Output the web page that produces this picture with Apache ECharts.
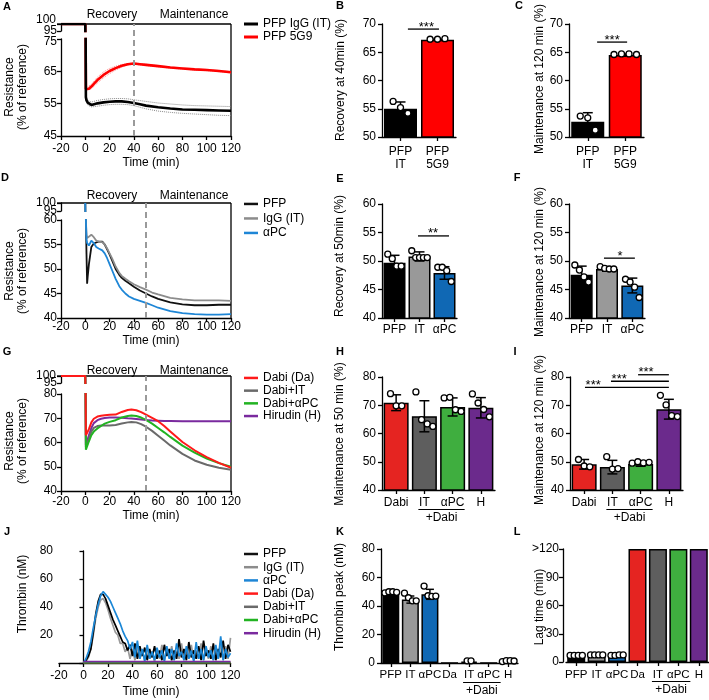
<!DOCTYPE html>
<html>
<head>
<meta charset="utf-8">
<script src="https://cdn.jsdelivr.net/npm/echarts@6/dist/echarts.min.js"></script>
<style>
html,body{margin:0;padding:0;background:#fff;}
#chart{width:709px;height:700px;}
</style>
</head>
<body>
<div id="chart"></div>
<script>
// ================= DATA =================
// Panel A – resistance curves (time in min, % of reference)
const aTime = [-20, 0, 0.5, 1, 2, 3, 5, 8, 10, 15, 20, 25, 30, 35, 40, 45, 50, 60, 70, 80, 90, 100, 110, 120];
const aIgG  = [100, 100, 57, 56, 55.3, 54.9, 54.6, 54.9, 55.1, 55.4, 55.6, 55.7, 55.7, 55.5, 55.2, 54.8, 54.4, 53.9, 53.5, 53.2, 53.1, 53.0, 52.9, 52.8];
const a5G9  = [100, 100, 59.5, 59.4, 59.4, 59.6, 60.3, 61.5, 62.3, 63.9, 65.1, 66.0, 66.7, 67.2, 67.4, 67.2, 67.0, 66.6, 66.2, 65.9, 65.6, 65.4, 65.1, 64.7];
const aSemTime = [0.5, 2, 5, 10, 15, 20, 25, 30, 35, 40, 50, 60, 70, 80, 90, 100, 110, 120];
const aIgGHi = [57.5, 56.0, 55.5, 56.0, 56.3, 56.5, 56.6, 56.6, 56.5, 56.2, 55.7, 55.2, 54.9, 54.6, 54.4, 54.3, 54.2, 54.1];
const aIgGLo = [56.5, 54.6, 54.0, 54.2, 54.5, 54.7, 54.8, 54.8, 54.7, 54.4, 53.4, 52.7, 52.3, 52.0, 51.8, 51.6, 51.4, 51.3];
const a5G9Hi = [59.8, 59.9, 61.0, 63.2, 64.8, 65.9, 66.6, 67.1, 67.4, 67.6, 67.2, 66.8, 66.4, 66.1, 65.8, 65.6, 65.3, 64.9];
const a5G9Lo = [59.2, 59.0, 59.6, 61.4, 63.0, 64.3, 65.4, 66.3, 67.0, 67.2, 66.8, 66.4, 66.0, 65.7, 65.4, 65.2, 64.9, 64.5];

// Panel B
const bCats = ['PFP\nIT', 'PFP\n5G9'];
const bMean = [55.0, 67.2];
const bSD   = [1.2, 0.1];
const bPts  = [[56.3, 55.2, 54.2], [67.3, 67.3, 67.4]];
const bSig  = [[0.2, 1.04, 69.1, '***', 0.7]];

// Panel C
const cCats = ['PFP\nIT', 'PFP\n5G9'];
const cMean = [52.7, 64.5];
const cSD   = [1.6, 0.2];
const cPts  = [[53.7, 53.4, 51.2], [64.6, 64.7, 64.7, 64.6]];
const cSig  = [[0.25, 1.05, 66.8, '***', 0.65]];

// Panel D
const dTime = [0, 0.5, 1, 1.5, 2, 3, 5, 7, 9, 11, 12, 14, 16, 18, 20, 22, 25, 28, 30, 33, 36, 40, 45, 50, 55, 60, 70, 80, 90, 100, 110, 120];
const dPFP  = [100, 60, 53, 47, 48.5, 51, 54.5, 55.2, 55.4, 55.6, 55.7, 55.6, 55, 54, 53, 51.8, 50, 48.8, 48.2, 47.6, 47.1, 46.4, 45.6, 45, 44.4, 43.9, 43.2, 42.8, 42.6, 42.6, 42.7, 42.7];
const dIgG  = [100, 60, 57, 56.3, 56, 56.3, 57, 56.5, 55.8, 55.6, 55.6, 55.5, 55, 54.2, 53.2, 52.2, 50.5, 49.2, 48.6, 48, 47.5, 46.9, 46.3, 45.8, 45.2, 44.8, 44.1, 43.8, 43.6, 43.6, 43.6, 43.5];
const dAPC  = [100, 60, 56, 55.3, 55, 54.8, 55.8, 55.3, 54.5, 54.2, 54.1, 53.8, 53.2, 52.2, 51, 49.8, 48, 46.5, 45.8, 45, 44.4, 43.9, 43.5, 43.1, 42.6, 42.1, 41.4, 41, 40.8, 40.7, 40.7, 40.8];

// Panel E
const eCats = ['PFP', 'IT', 'αPC'];
const eMean = [49.7, 50.8, 47.9];
const eSD   = [1.3, 0.8, 1.1];
const ePts  = [[51.2, 50.4, 49.1, 49.1], [51.8, 50.6, 50.6, 50.6, 50.6], [48.9, 48.9, 48.3, 46.4]];
const eSig  = [[0.94, 2.18, 54.4, '**', 1.54]];

// Panel F
const fCats = ['PFP', 'IT', 'αPC'];
const fMean = [47.6, 48.6, 45.7];
const fSD   = [1.5, 0.4, 1.3];
const fPts  = [[49.3, 48.4, 47.2, 46.3], [49.0, 48.7, 48.6, 48.6], [46.8, 46.3, 45.4, 43.6]];
const fSig  = [[0.88, 2.1, 50.5, '*', 1.51]];

// Panel G
const gTime = [-20, 0, 0.5, 1.5, 3, 5, 7, 10, 13, 16, 20, 25, 30, 35, 38, 42, 46, 50, 55, 60, 65, 70, 80, 90, 100, 110, 120];
const gDabi = [100, 100, 63, 63, 65.5, 68.3, 69.8, 70.7, 71, 71.2, 71.4, 71.5, 72.6, 73.4, 73.6, 73.3, 72.5, 71.5, 70.2, 68.8, 66.8, 64.5, 60.2, 56.8, 54, 51.6, 49.6];
const gIT   = [100, 100, 58, 58.5, 61.5, 64.5, 66, 66.8, 67, 67, 67, 67.2, 67.8, 68.3, 68.5, 68.3, 67.6, 66.5, 64.8, 62.8, 60.8, 58.8, 55.3, 52.6, 50.8, 49.6, 48.8];
const gAPC  = [100, 100, 57, 57.5, 60.5, 63, 64.5, 65.8, 66.8, 67.8, 68.5, 69.2, 70.3, 70.9, 71.1, 70.9, 70.3, 69.3, 67.8, 66, 64.2, 62.3, 58.7, 55.8, 53.4, 51.5, 50];
const gHir  = [100, 100, 59, 59.5, 63, 66, 68, 69.2, 69.8, 70.1, 70.3, 70.3, 70.2, 70, 69.9, 69.7, 69.5, 69.3, 69.1, 69, 68.9, 68.9, 68.8, 68.8, 68.8, 68.8, 68.8];

// Panel H
const hCats = ['Dabi', 'IT', 'αPC', 'H'];
const hMean = [70.9, 66.1, 69.4, 69.1];
const hSD   = [2.8, 5.5, 3.2, 3.6];
const hPts  = [[74.1, 69.8, 69.8], [74.7, 64.9, 63.4, 62.5], [72.6, 72.8, 68.4, 67.8], [74.0, 70.8, 68.5, 65.9]];

// Panel I
const iCats = ['Dabi', 'IT', 'αPC', 'H'];
const iMean = [49.1, 48.1, 49.2, 68.6];
const iSD   = [1.7, 2.4, 0.8, 3.5];
const iPts  = [[50.8, 48.5, 48.2], [51.8, 47.4, 47.6], [49.5, 50.0, 49.6, 49.8], [73.5, 70.1, 66.3, 66.0]];
const iSig  = [[0.03, 3.0, 76.3, '***', 0.32], [0.95, 3.0, 78.5, '***', 1.24], [1.91, 3.0, 80.8, '***', 2.19]];

// Panel J – thrombin generation (nM)
const jTime = [0, 2, 4, 6, 8, 10, 12, 14, 16, 18, 20, 22, 24, 26, 28, 30, 32, 34, 36, 38, 40,
  42, 44, 46, 48, 50, 52, 54, 56, 58, 60, 62, 64, 66, 68, 70, 72, 74, 76, 78, 80,
  82, 84, 86, 88, 90, 92, 94, 96, 98, 100, 102, 104, 106, 108, 110, 112, 114, 116, 118, 120];
const jPFP = [0, 2, 5, 10, 22, 35, 44, 49, 49, 46, 41, 36, 31, 27, 23, 19, 15, 14, 9, 13, 5,
  14, 3, 12, 5, 11, 2, 10, 4, 12, 3, 9, 2, 13, 5, 10, 2, 9, 3, 17, 4,
  10, 2, 15, 4, 9, 3, 12, 2, 16, 5, 9, 3, 14, 2, 10, 4, 16, 3, 13, 8];
const jIgG = [0, 1, 4, 10, 20, 32, 40, 45, 46, 43, 38, 32, 27, 22, 20, 14, 14, 8, 11, 3, 10,
  2, 12, 3, 9, 2, 11, 3, 8, 1, 10, 3, 13, 2, 9, 4, 12, 2, 8, 3, 14,
  2, 10, 4, 13, 2, 9, 3, 14, 2, 10, 3, 12, 2, 9, 3, 14, 2, 12, 3, 18];
const jAPC = [0, 3, 8, 15, 25, 34, 42, 48, 51, 49, 47, 44, 40, 36, 32, 28, 23, 19, 16, 10, 15,
  4, 16, 3, 10, 1, 13, 3, 8, 2, 11, 4, 9, 1, 12, 3, 10, 2, 14, 5, 8,
  2, 12, 3, 9, 1, 15, 3, 10, 2, 12, 4, 9, 2, 13, 3, 19, 2, 10, 4, 7];
const jFlatTime = [0, 40, 80, 120];
const jDabi   = [0.3, 0.3, 0.3, 0.3];
const jDabiIT = [0.3, 0.3, 0.3, 0.3];
const jDabiPC = [0.3, 0.3, 0.3, 0.3];
const jHir    = [1.0, 1.0, 1.0, 1.0];

// Panel K – thrombin peak
const kCats   = ['PFP', 'IT', 'αPC', 'Da', 'Dabi+IT', 'Dabi+αPC', 'H'];
const kLabels = ['PFP', 'IT', 'αPC', 'Da', 'IT', 'αPC', 'H'];
const kMean = [48.8, 44.5, 48.2, 0, 1.0, 0, 1.2];
const kSD   = [1.0, 2.5, 3.5, 0, 0.4, 0, 0.3];
const kPts  = [[49.2, 50.0, 50.0, 49.6], [49.0, 45.8, 43.6, 43.6], [54.0, 47.2, 46.8, 47.0], [], [1.5, 1.5], [], [1.0, 1.6, 1.6, 1.4]];

// Panel L – lag time
const lCats   = kCats;
const lLabels = kLabels;
const lMean = [6.5, 7.0, 6.5, 120, 120, 120, 120];
const lSD   = [0.4, 0.4, 0.4, 0, 0, 0, 0];
const lPts  = [[7, 7, 7, 7], [7.5, 7.5, 7.5, 7.5], [7, 7, 7.5, 7.5], [], [], [], []];
const lTopLabel = '>120';

// ================= STYLE / BUILD =================
const FONT = "'Liberation Sans', Arial, Helvetica, sans-serif";
const K = '#000000';
const RED = '#ff0000', RED2 = '#e52421', GREY = '#999999', DGREY = '#5e5e5e', BLUE = '#1068b4', GREEN = '#3fae3f', PURPLE = '#6b2a8c';

const option = {animation: false, backgroundColor: '#ffffff', textStyle: {fontFamily: FONT, color: K},
  grid: [], xAxis: [], yAxis: [], series: [], legend: []};
function add(arr, o) { arr.push(o); return arr.length - 1; }
function aLine() { return {show: true, onZero: false, lineStyle: {color: K, width: 1.3}}; }
function aTick() { return {show: true, inside: false, length: 4, lineStyle: {color: K, width: 1.3}}; }
function aLab(extra) { return Object.assign({show: true, color: K, fontSize: 12, fontFamily: FONT, hideOverlap: false, showMinLabel: true, showMaxLabel: true}, extra || {}); }
function grid(l, t, w, h) { return add(option.grid, {left: l, top: t, width: w, height: h, containLabel: false, outerBoundsMode: 'none', show: false}); }
const RICH = {dn: {padding: [6, 0, 0, 0], fontSize: 12, fontFamily: FONT, color: K}};

const linePanels = [];
function linePanel(p) {
  const gU = grid(p.left, p.upTop, p.width, p.upH);
  const gL = grid(p.left, p.loTop, p.width, p.loH);
  const gF = grid(p.left, p.upTop, p.width, p.loTop + p.loH - p.upTop);
  const xU = add(option.xAxis, {gridIndex: gU, type: 'value', min: -20, max: 120, show: false});
  const xL = add(option.xAxis, {gridIndex: gL, type: 'value', min: -20, max: 120, interval: 20, axisLine: aLine(), axisTick: aTick(), axisLabel: aLab({margin: p.xMargin}), splitLine: {show: false}});
  const xF = add(option.xAxis, {gridIndex: gF, type: 'value', min: -20, max: 120, show: false});
  const yU = add(option.yAxis, {gridIndex: gU, type: 'value', min: 95, max: 100, interval: 5, axisLine: aLine(), axisTick: aTick(),
    axisLabel: aLab({margin: 4, formatter: v => v === 100 ? '' : String(v)}), splitLine: {show: false}});
  const yL = add(option.yAxis, {gridIndex: gL, type: 'value', min: p.loMin, max: p.loMax, interval: p.loInt, axisLine: aLine(), axisTick: aTick(), axisLabel: aLab({margin: 4, formatter: p.fmtL, rich: RICH}), splitLine: {show: false}});
  const yF = add(option.yAxis, {gridIndex: gF, type: 'value', min: 0, max: 1, show: false});
  option.series.push({type: 'line', xAxisIndex: xF, yAxisIndex: yF, data: [[-20, 0]], showSymbol: false, symbol: 'none', lineStyle: {width: 0}, silent: true,
    markLine: {silent: true, symbol: ['none', 'none'], label: {show: false}, lineStyle: {color: '#9a9a9a', width: 2, type: [6, 4]}, data: [{xAxis: p.mark}]}});
  p.lines.forEach(l => {
    [[xU, yU], [xL, yL]].forEach(([xi, yi]) => {
      option.series.push({type: 'line', name: l.name, xAxisIndex: xi, yAxisIndex: yi, data: l.t.map((t, i) => [t, l.v[i]]),
        showSymbol: false, symbol: 'none', clip: true, silent: true, emphasis: {disabled: true}, z: 3,
        lineStyle: {color: l.color, width: l.width, type: l.type || 'solid'}, itemStyle: {color: l.color}});
    });
  });
  option.legend.push(Object.assign({orient: 'vertical', icon: 'rect', itemWidth: 14, itemGap: 0, padding: 0, selectedMode: false,
    textStyle: {fontSize: 12, fontFamily: FONT, color: K, lineHeight: p.legLH}}, p.legend));
  linePanels.push({xU: xU, yU: yU, yL: yL, loMin: p.loMin, topShift: p.topShift || 0});
}

function barPanel(p) {
  const n = p.mean.length;
  const g = grid(p.left, p.top, p.width, p.height);
  const xc = add(option.xAxis, {gridIndex: g, type: 'category', data: p.cats,
    axisLine: aLine(), axisTick: {show: true, alignWithLabel: true, interval: 0, length: 4, lineStyle: {color: K, width: 1.3}},
    axisLabel: aLab({margin: p.xMargin, interval: 0, lineHeight: 13, fontSize: p.xFont || 12, formatter: p.labels ? ((v, i) => p.labels[i]) : '{value}'}), splitLine: {show: false}});
  const xv = add(option.xAxis, {gridIndex: g, type: 'value', min: -0.5, max: n - 0.5, show: false});
  const y = add(option.yAxis, {gridIndex: g, type: 'value', min: p.min, max: p.max, interval: p.interval, offset: p.yOffset || 0,
    axisLine: aLine(), axisTick: aTick(), axisLabel: aLab({margin: p.yMargin || 6, formatter: p.yFmt || '{value}'}), splitLine: {show: false}});
  option.series.push({type: 'bar', xAxisIndex: xc, yAxisIndex: y, barWidth: p.barWidth, silent: true, z: 2,
    data: p.mean.map((v, i) => ({value: v, itemStyle: {color: p.colors[i]}})),
    itemStyle: {borderColor: K, borderWidth: 1.5}});
  const capW = p.capW || 5;
  option.series.push({type: 'custom', xAxisIndex: xv, yAxisIndex: y, silent: true, z: 3, clip: false,
    data: p.mean.map((m, i) => [i, m, p.sd[i]]),
    renderItem: (params, api) => {
      const i = api.value(0), m = api.value(1), s = api.value(2);
      if (!s) return {type: 'group', children: []};
      const t = api.coord([i, m + s]), b = api.coord([i, m - s]);
      const st = {stroke: K, lineWidth: 1.5};
      return {type: 'group', children: [
        {type: 'line', shape: {x1: t[0], y1: t[1], x2: b[0], y2: b[1]}, style: st},
        {type: 'line', shape: {x1: t[0] - capW, y1: t[1], x2: t[0] + capW, y2: t[1]}, style: st},
        {type: 'line', shape: {x1: b[0] - capW, y1: b[1], x2: b[0] + capW, y2: b[1]}, style: st}]};
    }});
  const pts = [];
  p.pts.forEach((arr, i) => {
    const k = arr.length;
    arr.forEach((v, j) => {
      const off = k > 1 ? (j - (k - 1) / 2) * Math.min(p.jit || 0.2, 0.62 / (k - 1)) : 0;
      pts.push([i + off, v]);
    });
  });
  option.series.push({type: 'scatter', xAxisIndex: xv, yAxisIndex: y, silent: true, z: 4, symbol: 'circle', symbolSize: p.ptSize || 6,
    itemStyle: {color: '#ffffff', borderColor: K, borderWidth: 1.3, opacity: 1}, data: pts});
  if (p.sig) {
    option.series.push({type: 'custom', xAxisIndex: xv, yAxisIndex: y, silent: true, z: 5, clip: false,
      data: p.sig.map(s => [s[0], s[1], s[2], s[4]]),
      renderItem: (params, api) => {
        const a = api.coord([api.value(0), api.value(2)]), b = api.coord([api.value(1), api.value(2)]), c = api.coord([api.value(3), api.value(2)]);
        return {type: 'group', children: [
          {type: 'line', shape: {x1: a[0], y1: a[1], x2: b[0], y2: b[1]}, style: {stroke: K, lineWidth: 1.3}},
          {type: 'text', x: c[0], y: a[1] - 2, style: {text: p.sig[params.dataIndex][3], fill: K, font: '13px ' + FONT, align: 'center', verticalAlign: 'middle'}}]};
      }});
  }
  return {xc: xc, y: y, min: p.min};
}

// ---- A ----
linePanel({left: 61, width: 170, upTop: 24, upH: 7, loTop: 39, loH: 97, loMin: 45, loMax: 75, loInt: 10, xMargin: 7, mark: 40, topShift: -4,
  fmtL: v => v === 75 ? '{dn|75}' : String(v),
  lines: [
    {t: aSemTime, v: aIgGHi, color: '#8a8a8a', width: 1, type: 'dotted'},
    {t: aSemTime, v: aIgGLo, color: '#8a8a8a', width: 1, type: 'dotted'},
    {t: aSemTime, v: a5G9Hi, color: '#ff8a8a', width: 1, type: 'dotted'},
    {t: aSemTime, v: a5G9Lo, color: '#ff8a8a', width: 1, type: 'dotted'},
    {name: 'PFP 5G9', t: aTime, v: a5G9, color: RED, width: 2.6},
    {name: 'PFP IgG (IT)', t: aTime, v: aIgG, color: K, width: 2.6}],
  legLH: 13, legend: {left: 244, top: 17.5, itemHeight: 3, data: ['PFP IgG (IT)', 'PFP 5G9']}});

// ---- D ----
linePanel({left: 61, width: 170, upTop: 203, upH: 8, loTop: 220, loH: 98, loMin: 40, loMax: 60, loInt: 5, xMargin: 3, mark: 50,
  lines: [
    {name: 'PFP', t: dTime, v: dPFP, color: '#111111', width: 1.8},
    {name: 'IgG (IT)', t: dTime, v: dIgG, color: '#8c8c8c', width: 1.8},
    {name: 'αPC', t: dTime, v: dAPC, color: '#1e86d6', width: 1.8}],
  legLH: 14.5, legend: {left: 244, top: 196.7, itemHeight: 2.5, data: ['PFP', 'IgG (IT)', 'αPC']}});

// ---- G ----
linePanel({left: 61, width: 170, upTop: 376, upH: 7, loTop: 394, loH: 97, loMin: 40, loMax: 80, loInt: 10, xMargin: 5, mark: 50,
  lines: [
    {name: 'Hirudin (H)', t: gTime, v: gHir, color: '#7a2a9e', width: 2},
    {name: 'Dabi+IT', t: gTime, v: gIT, color: '#6a6a6a', width: 2},
    {name: 'Dabi+αPC', t: gTime, v: gAPC, color: '#22b322', width: 2},
    {name: 'Dabi (Da)', t: gTime, v: gDabi, color: '#ff1a1a', width: 2}],
  legLH: 12.7, legend: {left: 244, top: 371.6, itemHeight: 2.5, data: ['Dabi (Da)', 'Dabi+IT', 'Dabi+αPC', 'Hirudin (H)']}});

// ---- J ----
(function () {
  const g = grid(59, 551, 171.5, 112);
  const x = add(option.xAxis, {gridIndex: g, type: 'value', min: -20, max: 120, interval: 20, axisLine: aLine(), axisTick: aTick(), axisLabel: aLab({margin: 7}), splitLine: {show: false}});
  const y = add(option.yAxis, {gridIndex: g, type: 'value', min: 0, max: 80, interval: 20,
    axisLine: {show: true, onZero: true, lineStyle: {color: K, width: 1.3}}, axisTick: aTick(),
    axisLabel: aLab({margin: 6, formatter: v => v === 0 ? '' : String(v)}), splitLine: {show: false}});
  const L = [
    {name: 'IgG (IT)', t: jTime, v: jIgG, color: '#9a9a9a'},
    {name: 'PFP', t: jTime, v: jPFP, color: K},
    {name: 'αPC', t: jTime, v: jAPC, color: '#1b87d6'},
    {name: 'Dabi (Da)', t: jFlatTime, v: jDabi, color: '#ff1a1a'},
    {name: 'Dabi+IT', t: jFlatTime, v: jDabiIT, color: '#6a6a6a'},
    {name: 'Dabi+αPC', t: jFlatTime, v: jDabiPC, color: '#22b322'},
    {name: 'Hirudin (H)', t: jFlatTime, v: jHir, color: '#7a2a9e'}];
  L.forEach(l => option.series.push({type: 'line', name: l.name, xAxisIndex: x, yAxisIndex: y, data: l.t.map((t, i) => [t, l.v[i]]),
    showSymbol: false, symbol: 'none', silent: true, emphasis: {disabled: true}, lineStyle: {color: l.color, width: 1.7}, itemStyle: {color: l.color}}));
  option.legend.push({orient: 'vertical', icon: 'rect', itemWidth: 14, itemHeight: 2.5, itemGap: 0, padding: 0, selectedMode: false,
    left: 244, top: 547.4, textStyle: {fontSize: 12, fontFamily: FONT, color: K, lineHeight: 13.2},
    data: ['PFP', 'IgG (IT)', 'αPC', 'Dabi (Da)', 'Dabi+IT', 'Dabi+αPC', 'Hirudin (H)']});
})();

// ---- bar panels ----
barPanel({left: 382, top: 24, width: 74, height: 113, min: 50, max: 70, interval: 5, cats: bCats, mean: bMean, sd: bSD, pts: bPts, sig: bSig,
  colors: [K, RED], barWidth: 33, xMargin: 8});
barPanel({left: 569, top: 24, width: 75, height: 113, min: 50, max: 70, interval: 5, cats: cCats, mean: cMean, sd: cSD, pts: cPts, sig: cSig,
  colors: [K, RED], barWidth: 33, xMargin: 8});
barPanel({left: 382, top: 204, width: 75, height: 114, min: 40, max: 60, interval: 5, cats: eCats, mean: eMean, sd: eSD, pts: ePts, sig: eSig,
  colors: [K, GREY, BLUE], barWidth: 22, xMargin: 5, jit: 0.18});
barPanel({left: 569, top: 204, width: 76, height: 114, min: 40, max: 60, interval: 5, cats: fCats, mean: fMean, sd: fSD, pts: fPts, sig: fSig,
  colors: [K, GREY, BLUE], barWidth: 22, xMargin: 5, jit: 0.18});
const panH = barPanel({left: 382, top: 377, width: 113, height: 113, min: 40, max: 80, interval: 10, cats: hCats, mean: hMean, sd: hSD, pts: hPts,
  colors: [RED2, DGREY, GREEN, PURPLE], barWidth: 25, xMargin: 6});
const panI = barPanel({left: 570, top: 377, width: 113, height: 113, min: 40, max: 80, interval: 10, cats: iCats, mean: iMean, sd: iSD, pts: iPts, sig: iSig,
  colors: [RED2, DGREY, GREEN, PURPLE], barWidth: 25, xMargin: 6});
const panK = barPanel({left: 381, top: 549, width: 137, height: 114, min: 0, max: 80, interval: 20, cats: kCats, labels: kLabels, mean: kMean, sd: kSD, pts: kPts,
  colors: [K, GREY, BLUE, RED2, DGREY, GREEN, PURPLE], barWidth: 17, xMargin: 5, capW: 4, xFont: 11.5});
const panL = barPanel({left: 566, top: 549, width: 143, height: 113, min: 0, max: 120, interval: 30, cats: lCats, labels: lLabels, mean: lMean, sd: lSD, pts: lPts,
  colors: [K, GREY, BLUE, RED2, DGREY, GREEN, PURPLE], barWidth: 18, xMargin: 6, yOffset: 3, yMargin: 4, capW: 4, xFont: 11.5,
  yFmt: v => v === 120 ? lTopLabel : String(v)});

const chart = echarts.init(document.getElementById('chart'), null, {renderer: 'canvas'});
chart.setOption(option);

// ---- annotations (text, frame) ----
function txt(x, y, s, o) {
  o = o || {};
  const el = {type: 'text', x: x, y: y, silent: true, z: 10,
    style: {text: s, fill: K, font: (o.bold ? 'bold ' : '') + (o.size || 12) + 'px ' + FONT, align: o.align || 'center', verticalAlign: 'middle'}};
  if (o.lh) el.style.lineHeight = o.lh;
  if (o.rot) el.rotation = Math.PI / 2;
  return el;
}
const G = [];
[['A', 7, 7], ['B', 340, 6], ['C', 519, 6], ['D', 5, 178], ['E', 340, 179], ['F', 517, 178],
 ['G', 7, 352], ['H', 340, 352], ['I', 515, 352], ['J', 7, 532], ['K', 340, 532], ['L', 517, 532]]
  .forEach(l => G.push(txt(l[1], l[2], l[0], {bold: true, size: 11})));
[[15], [196], [371]].forEach(r => { G.push(txt(112, r[0], 'Recovery')); G.push(txt(194, r[0], 'Maintenance')); });
[[87], [271], [441]].forEach(r => G.push(txt(16.5, r[0], 'Resistance\n(% of reference)', {rot: true, lh: 13})));
[[163], [341], [516], [692]].forEach(r => G.push(txt(151, r[0], 'Time (min)')));
G.push(txt(341, 80, 'Recovery at 40min (%)', {rot: true}));
G.push(txt(540, 79, 'Maintenance at 120 min (%)', {rot: true}));
G.push(txt(340, 256, 'Recovery at 50min (%)', {rot: true}));
G.push(txt(540, 262, 'Maintenance at 120 min (%)', {rot: true}));
G.push(txt(340, 434, 'Maintenance at 50 min (%)', {rot: true}));
G.push(txt(540, 430, 'Maintenance at 120 min (%)', {rot: true}));
G.push(txt(23, 594, 'Thrombin (nM)', {rot: true}));
G.push(txt(340, 597, 'Thrombin peak (nM)', {rot: true}));
G.push(txt(540, 607, 'Lag time (min)', {rot: true}));

// frames (top + right) and the "100" label of each broken resistance axis
linePanels.forEach(lp => {
  const x0 = chart.convertToPixel({xAxisIndex: lp.xU}, -20);
  const x1 = chart.convertToPixel({xAxisIndex: lp.xU}, 120);
  const yTop = chart.convertToPixel({yAxisIndex: lp.yU}, 100);
  const yBot = chart.convertToPixel({yAxisIndex: lp.yL}, lp.loMin);
  const st = {stroke: K, lineWidth: 1.3};
  G.push({type: 'line', silent: true, z: 1, shape: {x1: x0, y1: yTop, x2: x1, y2: yTop}, style: st});
  G.push({type: 'line', silent: true, z: 1, shape: {x1: x1, y1: yTop, x2: x1, y2: yBot}, style: st});
  G.push({type: 'line', silent: true, z: 1, shape: {x1: x0 - 4, y1: yTop, x2: x0, y2: yTop}, style: st});
  G.push(txt(x0 - 5, yTop + lp.topShift, '100', {align: 'right'}));
});

// "+Dabi" group labels under the IT / αPC categories
function groupLabel(pan, i1, i2) {
  const c1 = chart.convertToPixel({xAxisIndex: pan.xc}, i1);
  const c2 = chart.convertToPixel({xAxisIndex: pan.xc}, i2);
  const yb = chart.convertToPixel({yAxisIndex: pan.y}, pan.min);
  const x1 = c1 - 6, x2 = c2 + 12;
  G.push({type: 'line', silent: true, z: 10, shape: {x1: x1, y1: yb + 19.5, x2: x2, y2: yb + 19.5}, style: {stroke: K, lineWidth: 1.2}});
  G.push(txt((x1 + x2) / 2, yb + 28, '+Dabi'));
}
groupLabel(panH, 1, 2);
groupLabel(panI, 1, 2);
groupLabel(panK, 4, 5);
groupLabel(panL, 4, 5);
chart.setOption({graphic: G});
</script>
</body>
</html>
